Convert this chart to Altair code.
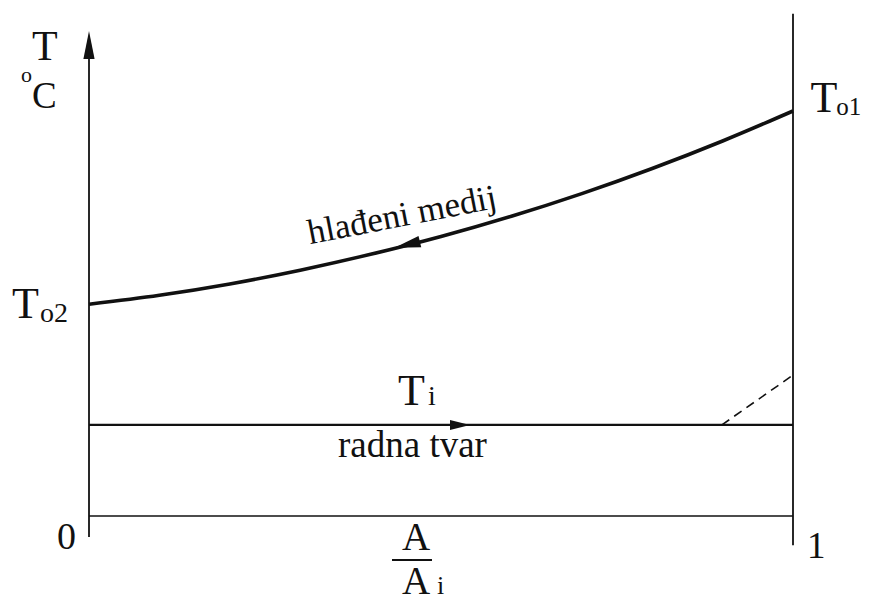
import altair as alt
import pandas as pd

# ---- data ----
ratio = [0.0, 0.1, 0.2, 0.3, 0.4, 0.5, 0.6, 0.7, 0.8, 0.9, 1.0]          # A/Ai
t_cooled = [52.3, 54.5, 57.3, 60.7, 64.6, 69.0, 74.0, 79.6, 85.8, 92.6, 100.0]  # hlađeni medij
t_working = 22.5                     # radna tvar, Ti
dash_ratio = [0.899, 1.0]
dash_temp = [22.5, 34.8]
axis_bottom, axis_top = -5.2, 116.0
right_bottom, right_top = -7.2, 124.0

W, H = 855, 594
xs = alt.Scale(domain=[-0.11506, 1.09943], nice=False, zero=False)
ys = alt.Scale(domain=[-21.23, 125.43], nice=False, zero=False)
INK = "#111111"


def X(f="x"):
    return alt.X(f"{f}:Q", scale=xs, axis=None)


def Y(f="y"):
    return alt.Y(f"{f}:Q", scale=ys, axis=None)


layers = []

# cooled medium curve
curve = pd.DataFrame({"x": ratio, "y": t_cooled})
layers.append(alt.Chart(curve).mark_line(color=INK, strokeWidth=3.6, interpolate="monotone")
              .encode(x=X(), y=Y()))

# working fluid line
work = pd.DataFrame({"x": [ratio[0], ratio[-1]], "y": [t_working, t_working]})
layers.append(alt.Chart(work).mark_line(color=INK, strokeWidth=2.4).encode(x=X(), y=Y()))

# bottom line (T = 0)
base = pd.DataFrame({"x": [ratio[0], ratio[-1]], "y": [0, 0]})
layers.append(alt.Chart(base).mark_line(color=INK, strokeWidth=1.6).encode(x=X(), y=Y()))

# dashed line
dash = pd.DataFrame({"x": dash_ratio, "y": dash_temp})
layers.append(alt.Chart(dash).mark_line(color=INK, strokeWidth=1.6, strokeDash=[9, 6]).encode(x=X(), y=Y()))

# vertical lines
vl = pd.DataFrame({"x": [0.0, 1.0], "y": [axis_bottom, right_bottom], "y2": [axis_top, right_top]})
layers.append(alt.Chart(vl).mark_rule(color=INK, strokeWidth=1.8)
              .encode(x=X(), y=Y(), y2="y2:Q"))

# fraction bar
fr = pd.DataFrame({"x": [0.4304], "x2": [0.4872], "y": [-10.86]})
layers.append(alt.Chart(fr).mark_rule(color=INK, strokeWidth=1.8).encode(x=X(), x2="x2:Q", y=Y()))

# arrow heads
arrow_up = "M0,-1 L0.4,1 L-0.4,1 Z"
arrow_left = "M-1,0 L1,-0.45 L1,0.45 Z"
arrow_right = "M1,0 L-1,-0.5 L-1,0.5 Z"
arrows = [
    (0.0, 116.3, arrow_up, 784, 0),
    (0.452, 67.0, arrow_left, 680, 346.5),
    (0.527, t_working, arrow_right, 400, 0),
]
for ax, ay, shp, sz, ang in arrows:
    d = pd.DataFrame({"x": [ax], "y": [ay]})
    layers.append(alt.Chart(d).mark_point(shape=shp, size=sz, angle=ang, filled=True,
                                          color=INK, opacity=1, strokeWidth=0)
                  .encode(x=X(), y=Y()))

# text labels: (text, x, y, size, font, align, angle)
SERIF = "Liberation Serif"
labels = [
    ("T", -0.0810, 112.59, 42, SERIF, "left", 0),
    ("o", -0.0966, 107.16, 22, SERIF, "left", 0),
    ("C", -0.0810, 100.74, 37, SERIF, "left", 0),
    ("T", -0.1094, 48.89, 44, SERIF, "left", 0),
    ("o2", -0.0696, 47.90, 28, SERIF, "left", 0),
    ("T", 1.0250, 99.75, 44, SERIF, "left", 0),
    ("o1", 1.0615, 99.01, 25, SERIF, "left", 0),
    ("T", 0.4389, 27.41, 44, SERIF, "left", 0),
    ("i", 0.4815, 27.41, 28, SERIF, "left", 0),
    ("radna tvar", 0.3537, 14.57, 37, SERIF, "left", 0),
    ("hlađeni medij", 0.4474, 71.60, 35, SERIF, "center", 349),
    ("0", -0.0455, -8.15, 38, SERIF, "left", 0),
    ("1", 1.0199, -10.37, 37, SERIF, "left", 0),
    ("A", 0.4645, -8.40, 39, SERIF, "center", 0),
    ("A", 0.4645, -19.26, 39, SERIF, "center", 0),
    ("i", 0.4943, -19.26, 26, SERIF, "left", 0),
]
for txt, lx, ly, fs, fnt, al, ang in labels:
    d = pd.DataFrame({"x": [lx], "y": [ly], "t": [txt]})
    layers.append(alt.Chart(d).mark_text(font=fnt, fontSize=fs, align=al,
                                         baseline="alphabetic", angle=ang, color=INK)
                  .encode(x=X(), y=Y(), text="t:N"))

chart = (alt.layer(*layers)
         .properties(width=W, height=H, autosize=alt.AutoSizeParams(type="none"),
                     padding=0, background="white")
         .configure_view(stroke=None))

chart.save("out.html", embed_options={"renderer": "svg", "actions": False})
